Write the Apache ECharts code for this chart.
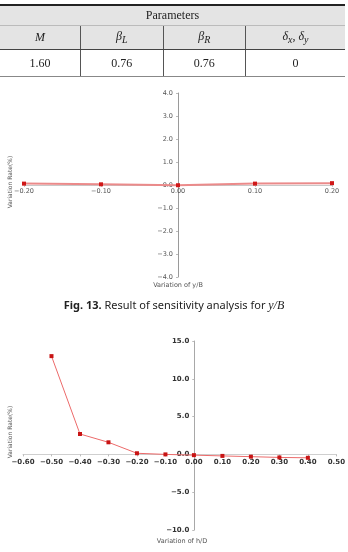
<!DOCTYPE html>
<html>
<head>
<meta charset="utf-8">
<script src="https://cdn.jsdelivr.net/npm/echarts@6/dist/echarts.min.js"></script>
<style>
  html, body { margin: 0; padding: 0; background: #fff; }
  #page { position: relative; width: 348px; height: 552px; overflow: hidden; }
  #chart { position: absolute; left: 0; top: 0; width: 348px; height: 552px; }
  table.params {
    position: absolute; left: 0; top: 4px; width: 345px;
    border-collapse: collapse; font-family: "Liberation Serif", "DejaVu Serif", serif;
    font-size: 12px; color: #222; z-index: 2;
  }
  table.params td { text-align: center; padding: 0; }
  table.params tr.r1 td { height: 19px; background: #e4e4e4; border-top: 2px solid #222; border-bottom: 1px solid #bbb; }
  table.params tr.r2 td { height: 23px; background: #e4e4e4; border-bottom: 1px solid #444; border-left: 1px solid #555; }
  table.params tr.r3 td { height: 26px; background: #fff; border-left: 1px solid #555; border-bottom: 1px solid #888; }
  table.params tr td:first-child { border-left: none; }
</style>
</head>
<body>
<div id="page">
  <table class="params">
    <tr class="r1"><td colspan="4">Parameters</td></tr>
    <tr class="r2">
      <td><i>M</i></td>
      <td><i>β</i><sub><i>L</i></sub></td>
      <td><i>β</i><sub><i>R</i></sub></td>
      <td><i>δ</i><sub><i>x</i></sub>, <i>δ</i><sub><i>y</i></sub></td>
    </tr>
    <tr class="r3"><td>1.60</td><td>0.76</td><td>0.76</td><td>0</td></tr>
  </table>
  <div id="chart"></div>
</div>
<script>
  // Fig. 13: variation of y/B
  const yBVariation = [-0.20, -0.10, 0.00, 0.10, 0.20]
  const yBRate = [0.06, 0.03, -0.01, 0.06, 0.08]
  // next figure: variation of h/D
  const hDVariation = [-0.50, -0.40, -0.30, -0.20, -0.10, 0.00, 0.10, 0.20, 0.30, 0.40]
  const hDRate = [13.0, 2.7, 1.6, 0.15, 0.0, -0.1, -0.2, -0.3, -0.4, -0.45]

  const minus = s => s.replace('-', '\u2212')
  const pairs = (xs, ys) => xs.map((x, i) => [x, ys[i]])

  // grids and ranges, axes are drawn crossing at zero
  const g1 = { left: 24, top: 93, width: 308, height: 184 }
  const g2 = { left: 23, top: 341, width: 314, height: 189 }
  const x1 = { min: -0.2, max: 0.2, interval: 0.1 }
  const y1 = { min: -4, max: 4, interval: 1 }
  const x2 = { min: -0.6, max: 0.5, interval: 0.1 }
  const y2 = { min: -10, max: 15, interval: 5 }
  // distance from grid edge to the zero line (negative offset pulls axis inward)
  const zeroOffX = (g, r) => -g.width * (0 - r.min) / (r.max - r.min)
  const zeroOffY = (g, r) => -g.height * (0 - r.min) / (r.max - r.min)

  const chart = echarts.init(document.getElementById('chart'))

  const option = {
    animation: false,
    grid: [g1, g2],
    xAxis: [
      {
        gridIndex: 0, type: 'value', ...x1,
        offset: zeroOffY(g1, y1),
        splitLine: { show: false },
        axisLine: { onZero: false, lineStyle: { color: '#c8c8c8' } },
        axisTick: { show: true, length: 2, lineStyle: { color: '#c8c8c8' } },
        axisLabel: {
          fontSize: 6.5, color: '#555', margin: 3, fontFamily: 'DejaVu Sans',
          formatter: v => minus(v.toFixed(2))
        }
      },
      {
        gridIndex: 1, type: 'value', ...x2,
        offset: zeroOffY(g2, y2),
        splitLine: { show: false },
        axisLine: { onZero: false, lineStyle: { color: '#cfcfcf' } },
        axisTick: { show: true, length: 2, lineStyle: { color: '#bbb' } },
        axisLabel: {
          fontSize: 7, color: '#333', fontWeight: 'bold', margin: 4, fontFamily: 'DejaVu Sans',
          showMinLabel: true, showMaxLabel: true,
          formatter: v => minus(v.toFixed(2))
        }
      }
    ],
    yAxis: [
      {
        gridIndex: 0, type: 'value', ...y1,
        offset: zeroOffX(g1, x1),
        splitLine: { show: false },
        axisLine: { onZero: false, lineStyle: { color: '#9a9a9a' } },
        axisTick: { show: true, length: 2, lineStyle: { color: '#bbb' } },
        axisLabel: {
          fontSize: 6.5, color: '#555', margin: 5, fontFamily: 'DejaVu Sans',
          formatter: v => minus(v.toFixed(1))
        }
      },
      {
        gridIndex: 1, type: 'value', ...y2,
        offset: zeroOffX(g2, x2),
        splitLine: { show: false },
        axisLine: { onZero: false, lineStyle: { color: '#a8a8a8' } },
        axisTick: { show: true, length: 2, lineStyle: { color: '#bbb' } },
        axisLabel: {
          fontSize: 7, color: '#333', fontWeight: 'bold', margin: 5, fontFamily: 'DejaVu Sans',
          formatter: v => minus(v.toFixed(1))
        }
      }
    ],
    series: [
      {
        type: 'line', xAxisIndex: 0, yAxisIndex: 0,
        data: pairs(yBVariation, yBRate),
        symbol: 'rect', symbolSize: 4,
        itemStyle: { color: '#d01818' },
        lineStyle: { color: '#eb8a8a', width: 2 }
      },
      {
        type: 'line', xAxisIndex: 1, yAxisIndex: 1,
        data: pairs(hDVariation, hDRate),
        symbol: 'rect', symbolSize: 4,
        itemStyle: { color: '#c81414' },
        lineStyle: { color: '#ec6a6a', width: 1 }
      }
    ],
    graphic: [
      {
        type: 'text', x: 10, y: 182, rotation: Math.PI / 2,
        style: { text: 'Variation Rate(%)', font: '6px "DejaVu Sans"', fill: '#555', align: 'center', verticalAlign: 'middle' }
      },
      {
        type: 'text', x: 178, y: 285,
        style: { text: 'Variation of y/B', font: '6.5px "DejaVu Sans"', fill: '#555', align: 'center', verticalAlign: 'middle' }
      },
      {
        type: 'text', x: 174, y: 306,
        style: {
          text: '{b|Fig. 13.} Result of sensitivity analysis for {i|y/B}',
          font: '11px "Noto Sans"', fill: '#222', align: 'center', verticalAlign: 'middle',
          rich: {
            b: { fontWeight: 'bold', fontSize: 11, fontFamily: 'Noto Sans' },
            i: { fontStyle: 'italic', fontSize: 12, fontFamily: 'Liberation Serif' }
          }
        }
      },
      {
        type: 'text', x: 10, y: 432, rotation: Math.PI / 2,
        style: { text: 'Variation Rate(%)', font: '6px "DejaVu Sans"', fill: '#555', align: 'center', verticalAlign: 'middle' }
      },
      {
        type: 'text', x: 182, y: 541,
        style: { text: 'Variation of h/D', font: '6.5px "DejaVu Sans"', fill: '#555', align: 'center', verticalAlign: 'middle' }
      }
    ]
  }

  chart.setOption(option)
</script>
</body>
</html>
